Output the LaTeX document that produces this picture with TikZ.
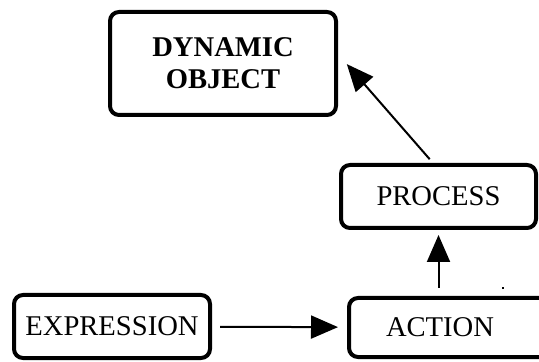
\documentclass[tikz,border=0pt]{standalone}
\usepackage{fontspec}
\setmainfont{Liberation Serif}
\usetikzlibrary{arrows.meta}

\tikzset{
  box/.style={draw, line width=2pt, rounded corners=4.5pt, inner sep=0pt,
    font=\fontsize{14.3}{16}\selectfont, align=center},
  arr/.style={line width=1pt, -{Triangle[length=13.5pt,width=11.5pt]}}
}

\begin{document}
\begin{tikzpicture}[x=0.5pt,y=-0.5pt]
    \useasboundingbox (0,0) rectangle (539,362);
    \node[box, minimum width=113pt, minimum height=51.5pt, font=\fontsize{14.3}{16}\selectfont\bfseries]
      (dynamic) at (223,63.5) {DYNAMIC\\OBJECT};
    \node[box, minimum width=97.5pt, minimum height=31.5pt] (process) at (438.5,196.5) {PROCESS};
    \node[box, minimum width=98pt, minimum height=31.5pt] (expression) at (112,326.5) {EXPRESSION};
    \node[box, anchor=west, minimum height=29.5pt, text width=85pt, inner xsep=18.5pt, align=left]
      (action) at (347,327.5) {ACTION};
    \draw[arr, shorten <=4pt, shorten >=4.5pt] (expression) -- (action);
    \draw[arr, shorten <=4pt, shorten >=2.5pt] (process.south |- action.north) -- (process.south);
    \draw[arr, shorten <=2.5pt, shorten >=6.7pt] ([xshift=-2.75pt]process.north) -- ([yshift=4.75pt]dynamic.east);
    \fill (502,287) rectangle (504,289);
  \end{tikzpicture}
\end{document}
